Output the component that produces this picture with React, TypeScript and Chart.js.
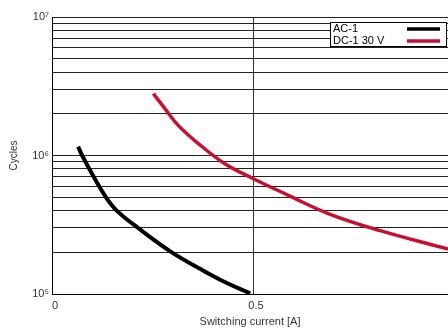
import React, { useEffect, useRef } from "react";
import { Chart, registerables } from "chart.js";

Chart.register(...registerables);

const acCurrent = [0.065, 0.075, 0.104, 0.134, 0.161, 0.214, 0.298, 0.372, 0.435, 0.493];
const acCycles = [1.16e6, 1.0e6, 7.0e5, 5.0e5, 4.0e5, 3.0e5, 2.0e5, 1.5e5, 1.2e5, 1.01e5];

const dcCurrent = [0.252, 0.281, 0.314, 0.364, 0.43, 0.501, 0.588, 0.687, 0.812, 0.985];
const dcCycles = [2.8e6, 2.18e6, 1.65e6, 1.22e6, 8.72e5, 6.8e5, 5.16e5, 3.81e5, 2.89e5, 2.11e5];

const seriesLabels = ["AC-1", "DC-1 30 V"];
const seriesColors = ["#000000", "#c8102e"];

const xTicks = [0, 0.5];
const decades = [1e5, 1e6, 1e7];
const decadeLabels = ["10\u2075", "10\u2076", "10\u2077"];

const FONT = "'Liberation Sans', Arial, sans-serif";

const legendPlugin = {
  id: "boxLegend",
  afterDraw(chart: any) {
    const ctx = chart.ctx;
    const x0 = 330, y0 = 22, w = 117, h = 25;
    ctx.save();
    ctx.fillStyle = "#fff";
    ctx.fillRect(x0, y0, w, h);
    ctx.strokeStyle = "#000";
    ctx.lineWidth = 1;
    ctx.strokeRect(x0 + 0.5, y0 + 0.5, w - 1, h - 1);
    ctx.font = `11px ${FONT}`;
    ctx.textBaseline = "middle";
    ctx.textAlign = "left";
    chart.data.datasets.forEach((ds: any, i: number) => {
      const cy = y0 + 6.5 + i * 12;
      ctx.fillStyle = "#000";
      ctx.fillText(ds.label, x0 + 3, cy);
      ctx.strokeStyle = ds.borderColor;
      ctx.lineWidth = 3.5;
      ctx.beginPath();
      ctx.moveTo(407, cy + 0.5);
      ctx.lineTo(440, cy + 0.5);
      ctx.stroke();
    });
    ctx.restore();
  },
};

export default function App() {
  const ref = useRef<HTMLCanvasElement>(null);
  useEffect(() => {
    document.body.style.margin = "0";
    const chart = new Chart(ref.current!, {
      type: "line",
      data: {
        datasets: [
          {
            label: seriesLabels[0],
            data: acCurrent.map((x, i) => ({ x, y: acCycles[i] })),
            borderColor: seriesColors[0],
            borderWidth: 4,
            pointRadius: 0,
            tension: 0.4,
            borderCapStyle: "butt",
            borderJoinStyle: "round",
          },
          {
            label: seriesLabels[1],
            data: dcCurrent.map((x, i) => ({ x, y: dcCycles[i] })),
            borderColor: seriesColors[1],
            borderWidth: 3.5,
            pointRadius: 0,
            tension: 0.4,
            borderCapStyle: "butt",
            borderJoinStyle: "round",
          },
        ],
      },
      options: {
        animation: false,
        responsive: false,
        maintainAspectRatio: false,
        layout: { padding: { top: 17, right: 0, left: 0, bottom: 0 } },
        plugins: { legend: { display: false }, tooltip: { enabled: false } },
        scales: {
          x: {
            type: "linear",
            min: 0,
            max: 0.985,
            afterBuildTicks: (s: any) => {
              s.ticks = xTicks.map((v) => ({ value: v }));
            },
            afterFit: (s: any) => {
              s.height = 35;
            },
            ticks: {
              color: "#333",
              font: { family: FONT, size: 11 },
              padding: 5,
              labelOffset: 3,
              maxRotation: 0,
              callback: (v: any) => String(v),
            },
            grid: { color: "#333", lineWidth: 1, drawTicks: false },
            border: { color: "#000", width: 1 },
            title: {
              display: true,
              text: "Switching current [A]",
              color: "#333",
              font: { family: FONT, size: 11 },
              padding: { top: 4, bottom: 0 },
            },
          },
          y: {
            type: "logarithmic",
            min: 1e5,
            max: 1e7,
            afterBuildTicks: (s: any) => {
              const t: any[] = [];
              for (let d = 1e5; d < 1e7; d *= 10) {
                for (let m = 1; m < 10; m++) t.push({ value: d * m });
              }
              t.push({ value: 1e7 });
              s.ticks = t;
            },
            afterFit: (s: any) => {
              s.width = 52;
            },
            ticks: {
              autoSkip: false,
              color: "#333",
              font: { family: FONT, size: 11 },
              padding: 3,
              callback: (v: any) => {
                const idx = decades.findIndex((d) => Math.abs(d - v) < 1);
                return idx >= 0 ? decadeLabels[idx] : "";
              },
            },
            grid: { color: "#222", lineWidth: 1, drawTicks: false },
            border: { color: "#000", width: 1 },
            title: {
              display: true,
              text: "Cycles",
              color: "#333",
              font: { family: FONT, size: 10 },
              padding: { top: 8, bottom: 4 },
            },
          },
        },
      },
      plugins: [legendPlugin],
    });
    return () => chart.destroy();
  }, []);
  return (
    <div style={{ position: "absolute", left: 0, top: 0, width: 448, height: 329 }}>
      <canvas ref={ref} width={448} height={329} />
    </div>
  );
}
